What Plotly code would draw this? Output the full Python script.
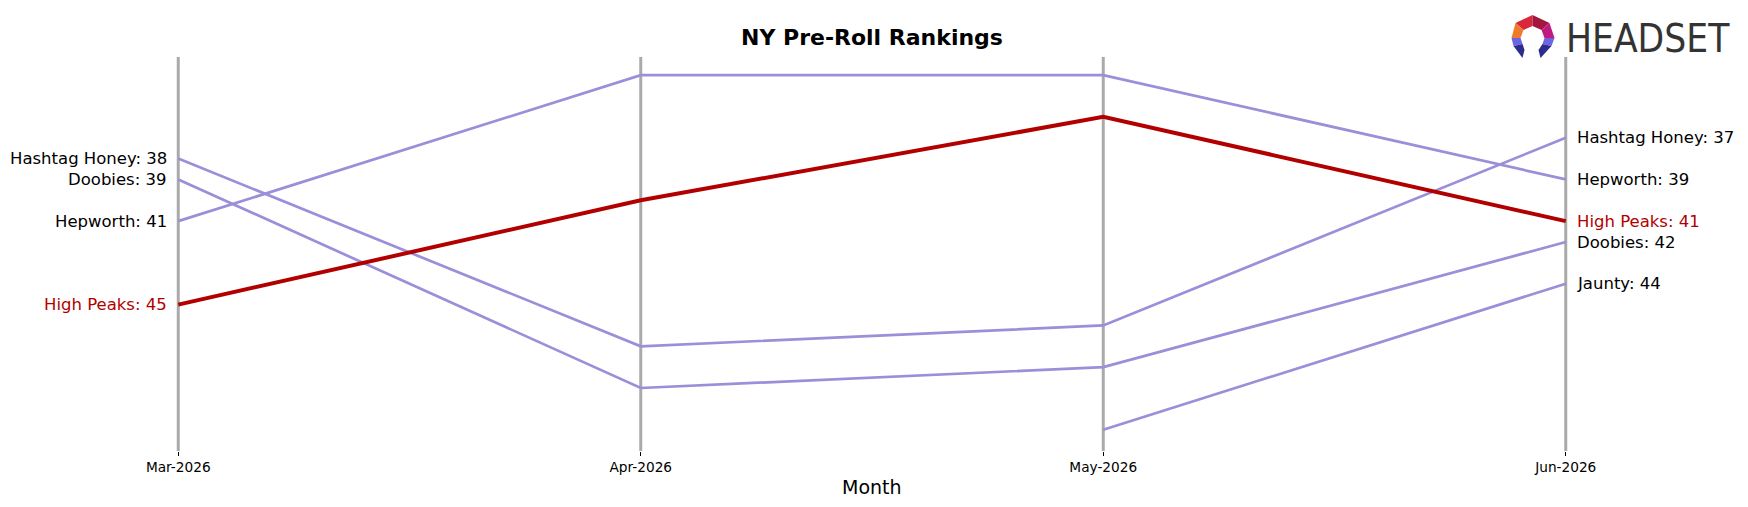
import plotly.graph_objects as go

months = ["Mar-2026", "Apr-2026", "May-2026", "Jun-2026"]
brands = ["Hashtag Honey", "Doobies", "Hepworth", "Jaunty", "High Peaks"]
ranks = {
    "Hashtag Honey": [38, 47, 46, 37],
    "Doobies": [39, 49, 48, 42],
    "Hepworth": [41, 34, 34, 39],
    "Jaunty": [None, None, 51, 44],
    "High Peaks": [45, 40, 36, 41],
}
highlight = "High Peaks"

W, H = 1748, 507
ML, MR, MT, MB = 169, 172.5, 57, 56
PW = W - ML - MR
PH = H - MT - MB

def px2paper(px, py):
    return (px - ML) / PW, (H - MB - py) / PH

RED = "#B20000"
PURPLE = "#9A8FD8"
xs = list(range(len(months)))

fig = go.Figure()
for b in brands:
    if b == highlight:
        continue
    fig.add_trace(go.Scatter(x=xs, y=ranks[b], mode="lines",
                             line=dict(color=PURPLE, width=2.7), showlegend=False,
                             hoverinfo="skip"))
fig.add_trace(go.Scatter(x=xs, y=ranks[highlight], mode="lines",
                         line=dict(color=RED, width=4), showlegend=False,
                         hoverinfo="skip"))

shapes = []
for i in xs:
    shapes.append(dict(type="line", xref="x", yref="paper", x0=i, x1=i, y0=0, y1=1,
                       line=dict(color="#AAAAAA", width=3), layer="below"))

annotations = []
first, last = 0, len(months) - 1
for b in brands:
    col = RED if b == highlight else "black"
    v0 = ranks[b][first]
    if v0 is not None:
        annotations.append(dict(x=first, y=v0, xref="x", yref="y", text=f"{b}: {v0}",
                                showarrow=False, xanchor="right", yanchor="middle",
                                xshift=-9, font=dict(size=16.5, color=col)))
    v1 = ranks[b][last]
    if v1 is not None:
        annotations.append(dict(x=last, y=v1, xref="x", yref="y", text=f"{b}: {v1}",
                                showarrow=False, xanchor="left", yanchor="middle",
                                xshift=9, font=dict(size=16.5, color=col)))

# Month axis title
mx, my = px2paper(872, 487)
annotations.append(dict(x=0.5, y=my, xref="paper", yref="paper", text="Month",
                        showarrow=False, xanchor="center", yanchor="middle",
                        font=dict(size=19, color="black")))
# Title
tx, ty = px2paper(872, 37)
annotations.append(dict(x=0.5, y=ty, xref="paper", yref="paper",
                        text="<b>NY Pre-Roll Rankings</b>", showarrow=False,
                        xanchor="center", yanchor="middle",
                        font=dict(size=22, color="black")))
# Logo text
lx, ly = px2paper(1564, 39)
annotations.append(dict(x=lx, y=ly, xref="paper", yref="paper", text="HEADSET",
                        showarrow=False, xanchor="left", yanchor="middle",
                        font=dict(size=38.5, color="#333333",
                                  family="Liberation Sans Narrow, DejaVu Sans Condensed, Roboto, sans-serif")))

# Logo icon polygons (pixel coords)
def poly(pts, color):
    p = [px2paper(x, y) for x, y in pts]
    path = "M " + " L ".join(f"{a:.5f},{b:.5f}" for a, b in p) + " Z"
    return dict(type="path", xref="paper", yref="paper", path=path,
                fillcolor=color, line=dict(width=0), layer="above")

icon = [
    ([(1533, 15), (1533, 26), (1524, 30), (1516, 23)], "#D8283A"),
    ([(1533, 15), (1550, 23), (1542, 30), (1533, 26)], "#A3173E"),
    ([(1516, 23), (1524, 30), (1521, 38), (1512, 38)], "#F07A2C"),
    ([(1550, 23), (1555, 38), (1545, 38), (1542, 30)], "#C0197F"),
    ([(1512, 38), (1521, 38), (1523, 44), (1514, 46)], "#6C64E2"),
    ([(1555, 38), (1552, 46), (1543, 44), (1545, 38)], "#6C64E2"),
    ([(1514, 46), (1523, 44), (1525, 50), (1523, 58)], "#2B2D8C"),
    ([(1552, 46), (1541, 58), (1539, 50), (1543, 44)], "#2B2D8C"),
]
for pts, c in icon:
    shapes.append(poly(pts, c))

fig.update_layout(
    width=W, height=H,
    margin=dict(l=ML, r=MR, t=MT, b=MB),
    paper_bgcolor="white", plot_bgcolor="white",
    font=dict(family="DejaVu Sans, sans-serif", color="black"),
    shapes=shapes, annotations=annotations,
    xaxis=dict(range=[-0.02, 3.02], tickvals=xs, ticktext=months,
               showgrid=False, zeroline=False, showline=False,
               ticks="outside", ticklen=4, tickwidth=1, tickcolor="black",
               tickfont=dict(size=13.7, color="black"), fixedrange=True),
    yaxis=dict(range=[52.02, 33.13], visible=False, showgrid=False,
               zeroline=False, fixedrange=True),
    showlegend=False,
)

fig.write_html("out.html")
